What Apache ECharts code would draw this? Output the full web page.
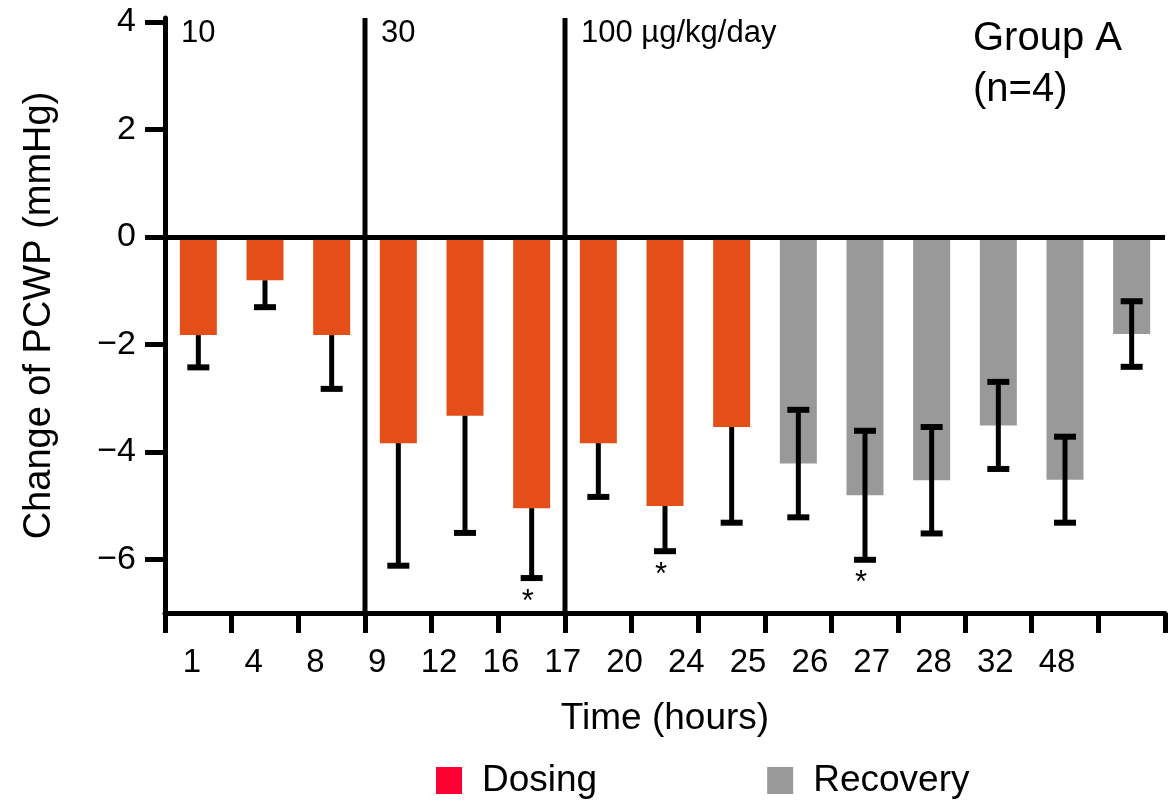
<!DOCTYPE html>
<html><head><meta charset="utf-8">
<script src="https://cdn.jsdelivr.net/npm/echarts@6/dist/echarts.min.js"></script>
<style>html,body{margin:0;padding:0;background:#fff;}#c{width:1172px;height:801px;}</style>
</head><body><div id="c"></div>
<script>
// ---- data ----
const categories = ['1','4','8','9','12','16','17','20','24','25','26','27','28','32','48'];
const dosingValues   = [-1.83,-0.81,-1.83,-3.84,-3.33,-5.05,-3.84,-5.01,-3.54,null,null,null,null,null,null];
const recoveryValues = [null,null,null,null,null,null,null,null,null,-4.22,-4.81,-4.53,-3.51,-4.52,-1.81];
const errorValues    = [0.6,0.5,1.0,2.28,2.18,1.3,1.0,0.84,1.78,1.0,1.2,0.99,0.81,0.8,0.61];
const significant    = [5,7,10];
const doseLabels     = ['10','30','100 µg/kg/day'];
const doseStartIndex = [0,3,6];
const yTicks         = [-6,-4,-2,0,2,4];

const FONT = "'Liberation Sans', Arial, sans-serif";
const chart = echarts.init(document.getElementById('c'), null, {renderer:'canvas'});

const errData = categories.map((c,i)=>{
  const dose = dosingValues[i] != null;
  const v = dose ? dosingValues[i] : recoveryValues[i];
  const e = errorValues[i];
  return [i, v - e, dose ? v : v + e, dose ? 0 : 1, significant.includes(i) ? 1 : 0];
});
const doseData = doseLabels.map((t,k)=>[doseStartIndex[k], 4, k]);

function renderErr(params, api){
  const i = api.value(0);
  const lo = api.coord([i, api.value(1)]);
  const hi = api.coord([i, api.value(2)]);
  const x = lo[0], h = 11;
  const ch = [
    {type:'line', shape:{x1:x,y1:hi[1],x2:x,y2:lo[1]}, style:{stroke:'#000',lineWidth:5}},
    {type:'line', shape:{x1:x-h,y1:lo[1],x2:x+h,y2:lo[1]}, style:{stroke:'#000',lineWidth:6}}
  ];
  if (api.value(3) === 1) ch.push({type:'line', shape:{x1:x-h,y1:hi[1],x2:x+h,y2:hi[1]}, style:{stroke:'#000',lineWidth:6}});
  if (api.value(4) === 1) ch.push({type:'text', x:x-4, y:lo[1]+24, style:{text:'*', font:'31px '+FONT, fill:'#000', align:'center', verticalAlign:'middle'}});
  return {type:'group', children:ch};
}
function renderDose(params, api){
  const i = api.value(0);
  const top = api.coord([i, 4.07]);
  const bot = api.coord([i, -7]);
  const bw = api.size([1,0])[0];
  const xl = top[0] - bw/2;
  const ch = [{type:'text', x:xl+16, y:33, style:{text:doseLabels[api.value(2)], font:'31px '+FONT, fill:'#000', align:'left', verticalAlign:'middle'}}];
  if (i > 0) ch.push({type:'line', shape:{x1:xl,y1:top[1],x2:xl,y2:bot[1]}, style:{stroke:'#000',lineWidth:5}});
  return {type:'group', children:ch};
}

chart.setOption({
  animation:false,
  textStyle:{fontFamily:FONT},
  grid:[
    {left:165, right:7, top:18, bottom:188, outerBoundsMode:'none'},
    {left:161, width:927, top:18, bottom:188, outerBoundsMode:'none'}
  ],
  legend:{
    left:431, top:757, itemWidth:26, itemHeight:27, itemGap:170, icon:'rect',
    textStyle:{fontSize:37, color:'#000', fontFamily:FONT, padding:[0,0,0,15]},
    data:[{name:'Dosing', itemStyle:{color:'#ff0033'}},{name:'Recovery', itemStyle:{color:'#999999'}}]
  },
  xAxis:[
    {type:'category', gridIndex:0, data:categories, boundaryGap:true,
     axisLine:{onZero:false, lineStyle:{color:'#000', width:5}},
     axisTick:{show:true, interval:0, length:20, lineStyle:{color:'#000', width:5}},
     axisLabel:{show:false}, splitLine:{show:false},
     name:'Time (hours)', nameLocation:'middle', nameGap:87,
     nameTextStyle:{fontSize:37, color:'#000', fontFamily:FONT}},
    {type:'category', gridIndex:1, data:categories, boundaryGap:true,
     axisLine:{show:false}, axisTick:{show:false}, splitLine:{show:false},
     axisLabel:{interval:0, fontSize:33, color:'#000', margin:33, fontFamily:FONT}}
  ],
  yAxis:[
    {type:'value', gridIndex:0, min:-7, max:4.07,
     axisLine:{show:true, lineStyle:{color:'#000', width:5}},
     axisTick:{show:true, length:20, lineStyle:{color:'#000', width:5}, customValues:yTicks},
     axisLabel:{fontSize:34, color:'#000', margin:29, fontFamily:FONT, customValues:yTicks,
       formatter:v=> v<0 ? '\u2212'+Math.abs(v) : String(v)},
     splitLine:{show:false},
     name:'Change of PCWP (mmHg)', nameLocation:'middle', nameGap:106,
     nameTextStyle:{fontSize:38, color:'#000', fontFamily:FONT}},
    {type:'value', gridIndex:1, min:-7, max:4.07, show:false}
  ],
  series:[
    {name:'Dosing', type:'bar', data:dosingValues, barWidth:37, barGap:'-100%',
     itemStyle:{color:'#e34e19'}, silent:true,
     markLine:{silent:true, symbol:'none', label:{show:false}, lineStyle:{color:'#000', width:5, type:'solid'}, data:[{yAxis:0}]}},
    {name:'Recovery', type:'bar', data:recoveryValues, barWidth:37, barGap:'-100%',
     itemStyle:{color:'#999999'}, silent:true},
    {type:'custom', renderItem:renderErr, data:errData, encode:{x:0, y:[1,2]}, silent:true, z:5},
    {type:'custom', renderItem:renderDose, data:doseData, encode:{x:0, y:1}, silent:true, z:6}
  ],
  graphic:[
    {type:'text', left:973, top:13, style:{text:'Group A\n(n=4)', font:'40px '+FONT, fill:'#000', lineHeight:51}}
  ]
});
</script>
</body></html>
